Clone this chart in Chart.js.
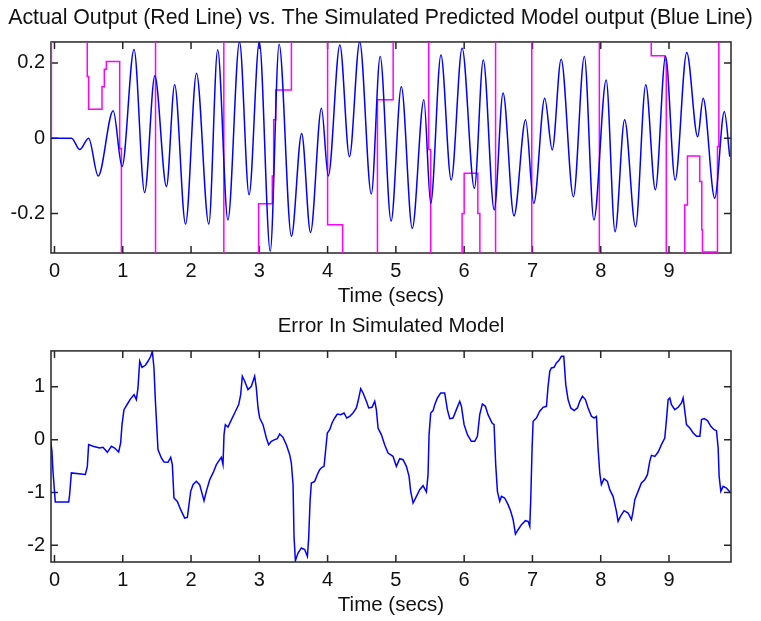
<!DOCTYPE html>
<html>
<head>
<meta charset="utf-8">
<script src="https://cdn.jsdelivr.net/npm/chart.js@4.4.1/dist/chart.umd.min.js"></script>
<style>
  html, body { margin: 0; padding: 0; background: #fff; }
  #wrap { position: relative; width: 761px; height: 621px; overflow: hidden; background: #fff; }
  .panel { position: absolute; left: 0; width: 761px; height: 309px; }
</style>
</head>
<body>
<div id="wrap">
  <div class="panel" style="top:0"><canvas id="outChart"></canvas></div>
  <div class="panel" style="top:309px"><canvas id="errChart"></canvas></div>
</div>
<script>
// values (time in secs)
const simTime = [-0.051, 0.25, 0.37, 0.50, 0.64, 0.86, 0.99, 1.165, 1.32, 1.47, 1.64, 1.76, 1.92, 2.08, 2.26, 2.39,
  2.54, 2.71, 2.85, 3.00, 3.16, 3.29, 3.47, 3.62, 3.75, 3.91, 4.01, 4.18, 4.32, 4.47, 4.64, 4.77, 4.93,
  5.08, 5.24, 5.41, 5.51, 5.66, 5.81, 5.97, 6.15, 6.28, 6.44, 6.57, 6.73, 6.90, 7.02, 7.18, 7.29, 7.42,
  7.60, 7.76, 7.90, 8.08, 8.21, 8.35, 8.51, 8.66, 8.80, 8.95, 9.09, 9.26, 9.42, 9.50, 9.67, 9.81, 9.89];
const simOutput = [0, 0, -0.03, 0.0, -0.10, 0.073, -0.075, 0.236, -0.144, 0.166, -0.128, 0.142, -0.228, 0.173, -0.228, 0.235,
  -0.217, 0.256, -0.15, 0.256, -0.30, 0.25, -0.26, 0.013, -0.25, 0.08, -0.10, 0.248, -0.049, 0.256, -0.148, 0.217, -0.22,
  0.137, -0.239, 0.102, -0.173, 0.221, -0.111, 0.239, -0.133, 0.208, -0.19, 0.12, -0.206, 0.049, -0.173, 0.106, -0.031, 0.21,
  -0.155, 0.217, -0.217, 0.155, -0.248, 0.049, -0.235, 0.142, -0.137, 0.217, -0.111, 0.228, 0.004, 0.106, -0.159, 0.071, -0.049];

const actualTime = [-0.051, -0.045, 0.48, 0.50, 0.696, 0.73, 0.76, 0.955, 0.98, 1.48, 2.48, 2.99, 3.19, 3.21, 3.24, 3.47,
  4.00, 4.22, 4.73, 4.96, 5.48, 5.51, 5.97, 6.00, 6.20, 6.23, 6.46, 6.99, 7.98, 8.74, 8.94, 8.96,
  9.23, 9.27, 9.45, 9.48, 9.49, 9.71, 9.73, 9.908];
const actualOutput = [0, 0.4, 0.164, 0.077, 0.137, 0.183, 0.204, -0.027, -0.4, 0.4, -0.4, -0.174, -0.10, 0.049, 0.128, 0.4,
  -0.23, -0.4, 0.102, 0.4, -0.03, -0.4, -0.2, -0.093, -0.2, -0.4, 0.4, -0.4, 0.4, 0.219, 0.208, -0.4,
  -0.177, -0.047, -0.115, -0.243, -0.302, -0.022, 0.4, 0.4];

const errTime = [-0.056, -0.037, -0.022, 0.012, 0.208, 0.222, 0.247, 0.452, 0.481, 0.50, 0.564, 0.662, 0.71, 0.774, 0.833,
  0.881, 0.94, 0.969, 0.989, 1.018, 1.077, 1.116, 1.165, 1.199, 1.223, 1.248, 1.282, 1.331, 1.37, 1.409, 1.433,
  1.457, 1.477, 1.516, 1.565, 1.604, 1.663, 1.702, 1.726, 1.75, 1.799, 1.848, 1.907, 1.946, 1.995, 2.029, 2.077,
  2.126, 2.19, 2.224, 2.273, 2.322, 2.371, 2.42, 2.444, 2.468, 2.483, 2.502, 2.541, 2.58, 2.639, 2.698, 2.727,
  2.751, 2.786, 2.834, 2.883, 2.932, 2.956, 2.981, 3.005, 3.054, 3.103, 3.137, 3.176, 3.225, 3.264, 3.298, 3.347,
  3.396, 3.445, 3.469, 3.494, 3.508, 3.528, 3.567, 3.616, 3.665, 3.704, 3.723, 3.743, 3.762, 3.811, 3.85, 3.884,
  3.918, 3.948, 3.972, 3.996, 4.031, 4.065, 4.104, 4.143, 4.192, 4.241, 4.28, 4.324, 4.372, 4.421, 4.446, 4.485,
  4.519, 4.568, 4.602, 4.651, 4.69, 4.714, 4.739, 4.787, 4.836, 4.885, 4.958, 5.007, 5.056, 5.105, 5.154, 5.193,
  5.217, 5.252, 5.301, 5.349, 5.398, 5.447, 5.471, 5.486, 5.51, 5.545, 5.569, 5.608, 5.657, 5.715, 5.754, 5.789,
  5.837, 5.886, 5.935, 5.96, 5.999, 6.048, 6.106, 6.155, 6.194, 6.228, 6.267, 6.311, 6.35, 6.409, 6.438, 6.462,
  6.487, 6.521, 6.546, 6.594, 6.643, 6.682, 6.717, 6.751, 6.79, 6.839, 6.897, 6.936, 6.961, 6.975, 6.995, 7.01,
  7.058, 7.107, 7.156, 7.205, 7.229, 7.254, 7.278, 7.317, 7.351, 7.386, 7.425, 7.459, 7.488, 7.522, 7.561, 7.61,
  7.659, 7.693, 7.732, 7.776, 7.815, 7.864, 7.903, 7.937, 7.961, 7.986, 8.01, 8.049, 8.098, 8.132, 8.181, 8.23,
  8.254, 8.289, 8.342, 8.401, 8.45, 8.474, 8.499, 8.547, 8.596, 8.645, 8.684, 8.718, 8.743, 8.792, 8.841, 8.889,
  8.938, 8.963, 8.987, 9.012, 9.036, 9.085, 9.134, 9.183, 9.207, 9.232, 9.256, 9.305, 9.354, 9.403, 9.452, 9.476,
  9.515, 9.564, 9.612, 9.661, 9.695, 9.72, 9.734, 9.759, 9.793, 9.842, 9.891];
const errValue = [-0.02, -0.22, -0.60, -1.18, -1.18, -1.04, -0.63, -0.66, -0.51, -0.095, -0.126, -0.158, -0.145, -0.24, -0.126,
  -0.158, -0.234, -0.063, 0.284, 0.568, 0.694, 0.777, 0.852, 0.758, 0.979, 1.484, 1.37, 1.408, 1.484, 1.578, 1.673,
  1.357, 0.758, -0.189, -0.347, -0.423, -0.429, -0.335, -0.473, -1.105, -1.168, -1.326, -1.484, -1.471, -0.979, -0.852, -0.789,
  -0.852, -1.155, -0.979, -0.758, -0.63, -0.473, -0.379, -0.335, -0.473, 0.095, 0.284, 0.24, 0.347, 0.505, 0.663, 0.852,
  1.2, 1.105, 0.947, 1.01, 1.2, 0.979, 0.6, 0.41, 0.284, 0.032, -0.095, -0.032, 0, 0.019, 0.107, 0.044,
  -0.095, -0.284, -0.442, -0.852, -1.83, -2.29, -2.146, -2.05, -2.08, -2.21, -1.86, -1.168, -0.82, -0.789, -0.66, -0.568,
  -0.524, -0.505, -0.189, 0.126, 0.189, 0.316, 0.41, 0.486, 0.473, 0.505, 0.41, 0.442, 0.505, 0.6, 0.726, 0.966,
  0.884, 0.726, 0.6, 0.612, 0.726, 0.568, 0.221, 0.095, -0.095, -0.253, -0.316, -0.505, -0.36, -0.379, -0.505, -0.694,
  -0.979, -1.2, -1.073, -0.947, -0.871, -0.991, -0.663, 0.095, 0.505, 0.549, 0.663, 0.789, 0.884, 0.884, 0.568, 0.398,
  0.41, 0.568, 0.726, 0.631, 0.284, 0.095, -0.032, -0.032, 0.063, 0.473, 0.676, 0.631, 0.473, 0.316, 0.284, -0.473,
  -0.979, -1.168, -1.073, -1.105, -1.231, -1.357, -1.515, -1.787, -1.705, -1.61, -1.534, -1.547, -1.641, -1.136, -0.158, 0.347,
  0.41, 0.537, 0.612, 0.631, 1.01, 1.294, 1.357, 1.37, 1.452, 1.496, 1.578, 1.578, 1.042, 0.758, 0.6, 0.549,
  0.6, 0.726, 0.821, 0.758, 0.6, 0.442, 0.41, 0.442, -0.158, -0.631, -0.852, -0.739, -0.789, -0.947, -1.073, -1.357,
  -1.547, -1.452, -1.345, -1.389, -1.515, -1.357, -1.136, -0.979, -0.821, -0.758, -0.663, -0.41, -0.297, -0.316, -0.234, -0.095,
  0.032, 0.379, 0.758, 0.789, 0.663, 0.568, 0.612, 0.694, 0.789, 0.537, 0.284, 0.221, 0.126, 0.063, 0.063, 0.379,
  0.398, 0.36, 0.253, 0.189, 0.17, -0.158, -0.694, -0.979, -0.884, -0.915, -0.991];

const xTicks = [0, 1, 2, 3, 4, 5, 6, 7, 8, 9];
const outYTicks = [-0.2, 0, 0.2];
const errYTicks = [-2, -1, 0, 1];

const X_MIN = -0.051, X_MAX = 9.908;
const FONT = "'Liberation Sans', Arial, Helvetica, sans-serif";
const TICK_LEN = 7;

Chart.defaults.font.family = FONT;

function pairs(xs, ys) {
  return xs.map((x, i) => ({ x: x, y: ys[i] }));
}

// matlab style box with inward ticks
const boxPlugin = {
  id: 'matBox',
  beforeDatasetsDraw(chart) {
    const { ctx, chartArea: a, scales: { x, y } } = chart;
    ctx.save();
    ctx.strokeStyle = '#262626';
    ctx.lineWidth = 1.5;
    ctx.strokeRect(a.left, a.top, a.right - a.left, a.bottom - a.top);
    ctx.beginPath();
    x.ticks.forEach(t => {
      const px = x.getPixelForValue(t.value);
      ctx.moveTo(px, a.bottom); ctx.lineTo(px, a.bottom - TICK_LEN);
      ctx.moveTo(px, a.top); ctx.lineTo(px, a.top + TICK_LEN);
    });
    y.ticks.forEach(t => {
      const py = y.getPixelForValue(t.value);
      ctx.moveTo(a.left, py); ctx.lineTo(a.left + TICK_LEN, py);
      ctx.moveTo(a.right, py); ctx.lineTo(a.right - TICK_LEN, py);
    });
    ctx.stroke();
    ctx.restore();
  }
};

function makeOptions(title, titleSize, titlePad, titleFull, yMin, yMax, yTicks) {
  return {
    responsive: true,
    maintainAspectRatio: false,
    animation: false,
    layout: { padding: 0 },
    plugins: {
      legend: { display: false },
      tooltip: { enabled: false },
      title: {
        display: true,
        fullSize: titleFull,
        text: title,
        color: '#111',
        font: { family: FONT, size: titleSize, weight: 'normal' },
        padding: titlePad
      }
    },
    scales: {
      x: {
        type: 'linear',
        min: X_MIN,
        max: X_MAX,
        grid: { display: false, drawTicks: false },
        border: { display: false },
        afterBuildTicks: s => { s.ticks = xTicks.map(v => ({ value: v })); },
        afterFit: s => { s.height = 56; },
        ticks: {
          padding: 6.5,
          color: '#111',
          autoSkip: false,
          maxRotation: 0,
          font: { size: 20 },
          callback: v => String(v)
        },
        title: {
          display: true,
          text: 'Time (secs)',
          color: '#111',
          font: { size: 20.5 },
          padding: { top: 0, bottom: 0 }
        }
      },
      y: {
        type: 'linear',
        min: yMin,
        max: yMax,
        grid: { display: false, drawTicks: false },
        border: { display: false },
        afterBuildTicks: s => { s.ticks = yTicks.map(v => ({ value: v })); },
        afterFit: s => { s.width = 51; },
        ticks: {
          padding: 6,
          color: '#111',
          font: { size: 20 },
          callback: v => String(v)
        }
      },
      // empty right margin so the figure title can use the full width
      yRight: {
        type: 'linear',
        position: 'right',
        grid: { display: false, drawTicks: false },
        border: { display: false },
        ticks: { display: false },
        afterFit: s => { s.width = 30; }
      }
    }
  };
}

// top: actual vs simulated
new Chart(document.getElementById('outChart'), {
  type: 'line',
  data: {
    datasets: [{
      label: 'Simulated',
      data: pairs(simTime, simOutput),
      borderColor: '#0000ff',
      borderWidth: 1.5,
      pointRadius: 0,
      cubicInterpolationMode: 'monotone',
      order: 0
    }, {
      label: 'Actual',
      data: pairs(actualTime, actualOutput),
      borderColor: '#ff00ff',
      borderWidth: 1.5,
      pointRadius: 0,
      stepped: true,
      order: 1
    }]
  },
  options: makeOptions('Actual Output (Red Line) vs. The Simulated Predicted Model output (Blue Line)',
    21.3, { top: 5.2, bottom: 11.2 }, true, -0.3047, 0.2558, outYTicks),
  plugins: [boxPlugin]
});

// bottom: error
new Chart(document.getElementById('errChart'), {
  type: 'line',
  data: {
    datasets: [{
      label: 'Error',
      data: pairs(errTime, errValue),
      borderColor: '#0000ff',
      borderWidth: 1.5,
      pointRadius: 0,
      tension: 0
    }]
  },
  options: makeOptions('Error In Simulated Model', 20.5, { top: 5.4, bottom: 11.9 }, false, -2.316, 1.68, errYTicks),
  plugins: [boxPlugin]
});
</script>
</body>
</html>
